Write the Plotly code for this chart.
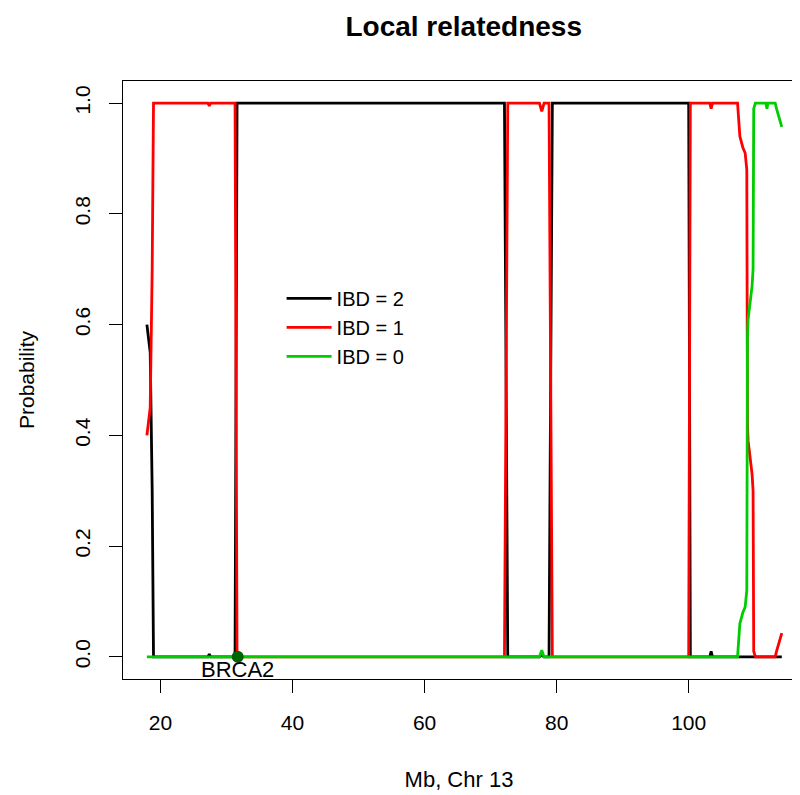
import plotly.graph_objects as go

# Positions along chromosome 13 (Mb)
pos_mb = [17.95, 18.15, 18.45, 18.75, 18.95, 27.2, 27.4, 27.6, 31.3, 31.6,
          72.1, 72.6, 77.4, 77.75, 78.1, 78.85, 79.35, 100.0, 100.25,
          103.2, 103.4, 103.6, 107.4, 107.75, 108.2, 108.55, 108.8, 108.9,
          109.0, 109.6, 109.75, 109.85, 110.1, 111.7, 111.85, 112.0,
          113.1, 113.3, 113.7, 114.1]

# Posterior probabilities for each IBD state
ibd2 = [0.60, 0.58, 0.55, 0.30, 0.00, 0.00, 0.005, 0.00, 0.00, 1.00,
        1.00, 0.00, 0.00, 0.003, 0.00, 0.00, 1.00, 1.00, 0.00,
        0.00, 0.01, 0.00, 0.00, 0.00, 0.00, 0.00, 0.00, 0.00,
        0.00, 0.00, 0.00, 0.00, 0.00, 0.00, 0.00, 0.00,
        0.00, 0.00, 0.00, 0.00]
ibd1 = [0.40, 0.42, 0.45, 0.70, 1.00, 1.00, 0.995, 1.00, 1.00, 0.00,
        0.00, 1.00, 1.00, 0.985, 1.00, 1.00, 0.00, 0.00, 1.00,
        1.00, 0.99, 1.00, 1.00, 0.94, 0.92, 0.91, 0.88, 0.42,
        0.39, 0.33, 0.30, 0.01, 0.00, 0.00, 0.00, 0.00,
        0.00, 0.01, 0.027, 0.043]
ibd0 = [0.00, 0.00, 0.00, 0.00, 0.00, 0.00, 0.00, 0.00, 0.00, 0.00,
        0.00, 0.00, 0.00, 0.012, 0.00, 0.00, 0.00, 0.00, 0.00,
        0.00, 0.00, 0.00, 0.00, 0.06, 0.08, 0.09, 0.12, 0.58,
        0.61, 0.67, 0.70, 0.99, 1.00, 1.00, 0.99, 1.00,
        1.00, 0.99, 0.973, 0.957]

series_names = ["IBD = 2", "IBD = 1", "IBD = 0"]
series_colors = ["#000000", "#FF0000", "#00CD00"]

gene_name = ["BRCA2"]
gene_pos = [31.7]
gene_prob = [0.0]

x_ticks = [20, 40, 60, 80, 100]
y_ticks = [0.0, 0.2, 0.4, 0.6, 0.8, 1.0]
y_ticklabels = ["0.0", "0.2", "0.4", "0.6", "0.8", "1.0"]

FONT = "Liberation Sans, Arial, Helvetica, sans-serif"

fig = go.Figure()
for name, vals, col in zip(series_names, [ibd2, ibd1, ibd0], series_colors):
    fig.add_trace(go.Scatter(x=pos_mb, y=vals, mode="lines", name=name,
                             line=dict(color=col, width=2.8)))

fig.add_trace(go.Scatter(x=gene_pos, y=gene_prob, mode="markers",
                         marker=dict(color="#006400", size=12),
                         showlegend=False, hoverinfo="skip"))
fig.add_annotation(x=gene_pos[0], y=gene_prob[0], text=gene_name[0],
                   showarrow=False, xanchor="center", yanchor="top",
                   yshift=2, font=dict(family=FONT, size=22, color="#000000"))

fig.update_layout(
    width=800, height=795,
    margin=dict(l=115, r=13, t=73, b=124, autoexpand=False),
    paper_bgcolor="white", plot_bgcolor="white",
    font=dict(family=FONT, size=21, color="#000000"),
    title=dict(text="<b>Local relatedness</b>", x=0.507, xref="paper",
               y=1 - 18 / 795, yref="container", yanchor="middle",
               xanchor="center", font=dict(family=FONT, size=28)),
    legend=dict(x=0.236, y=0.669, xanchor="left", yanchor="top",
                bgcolor="rgba(0,0,0,0)", font=dict(family=FONT, size=20),
                tracegroupgap=0, itemwidth=45),
    showlegend=True,
)
fig.update_xaxes(range=[14.33, 116.1], tickvals=x_ticks, showgrid=False,
                 zeroline=False, showline=True, mirror=True, linecolor="#000000",
                 linewidth=1.2, ticks="outside", ticklen=13, tickwidth=1.2,
                 tickcolor="#000000", ticklabelstandoff=12, automargin=False,
                 title=dict(text="Mb, Chr 13", standoff=38,
                            font=dict(family=FONT, size=22)),
                 tickfont=dict(family=FONT, size=21))
fig.update_yaxes(range=[-0.04, 1.04], tickvals=y_ticks, ticktext=y_ticklabels,
                 showgrid=False, zeroline=False, showline=True, mirror=True,
                 linecolor="#000000", linewidth=1.2, ticks="outside", ticklen=13,
                 tickwidth=1.2, tickcolor="#000000", tickangle=-90,
                 ticklabelstandoff=11, automargin=False,
                 title=dict(text="Probability", standoff=30,
                            font=dict(family=FONT, size=21)),
                 tickfont=dict(family=FONT, size=21))

fig.write_html("out.html")
